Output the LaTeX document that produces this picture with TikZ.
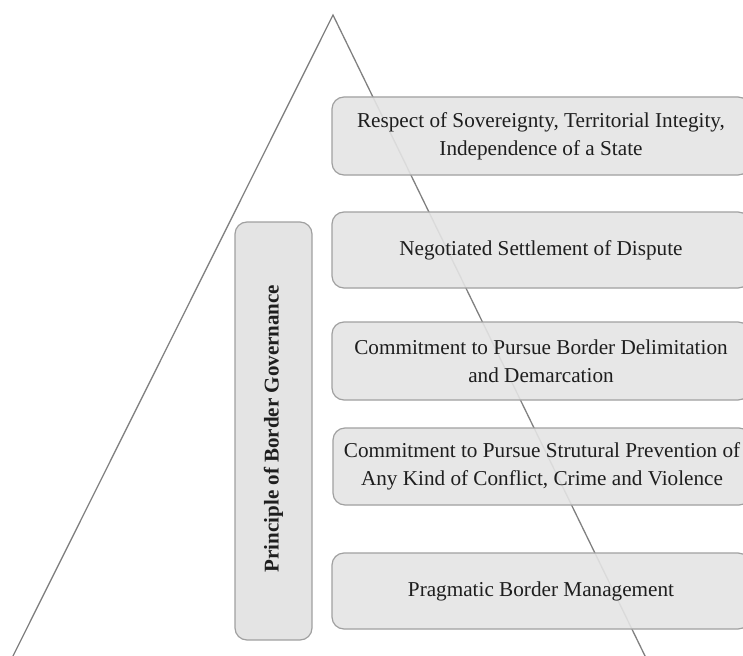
\documentclass[tikz,border=0pt]{standalone}
\usepackage{fontspec}
\setmainfont{Liberation Serif}
\definecolor{boxfill}{HTML}{E4E4E4}
\definecolor{boxline}{HTML}{A0A0A0}
\definecolor{triline}{HTML}{808080}
\definecolor{txt}{HTML}{1E1E1E}
\begin{document}
\begin{tikzpicture}[x=1pt,y=-1pt,
  level/.style={draw=boxline, line width=1.2pt, fill=boxfill, fill opacity=0.9, text opacity=1,
    rounded corners=12pt, minimum width=418pt, align=center, text=txt,
    font=\fontsize{21.2}{28}\selectfont, inner sep=0pt},
  sidebox/.style={draw=boxline, line width=1.2pt, fill=boxfill, rounded corners=12pt,
    minimum width=77pt, minimum height=418pt, inner sep=0pt},
  tri/.style={draw=triline, line width=1.3pt}]
\useasboundingbox (0,0) rectangle (743,655);
\clip (0,0) rectangle (743,655);
\coordinate (apex) at (333,15);
\coordinate (bl) at (12,658);
\coordinate (br) at (646,658);
\draw[tri] (bl) -- (apex) -- (br);
\node[level, minimum height=78pt] (l1) at (541,136) {Respect of Sovereignty, Territorial Integity,\\Independence of a State};
\node[level, minimum height=76pt] (l2) at (541,250) {Negotiated Settlement of Dispute};
\node[level, minimum height=78pt] (l3) at (541,361) {Commitment to Pursue Border Delimitation\\and Demarcation};
\node[level, minimum height=77pt] (l4) at (542,466.5) {Commitment to Pursue Strutural Prevention of\\Any Kind of Conflict, Crime and Violence};
\node[level, minimum height=76pt] (l5) at (541,591) {Pragmatic Border Management};
\node[sidebox] (side) at (273.5,431) {};
\node[rotate=90, font=\bfseries\fontsize{21}{24}\selectfont, text=txt] (sidelabel) at (273.5,428.5) {Principle of Border Governance};
\end{tikzpicture}
\end{document}
